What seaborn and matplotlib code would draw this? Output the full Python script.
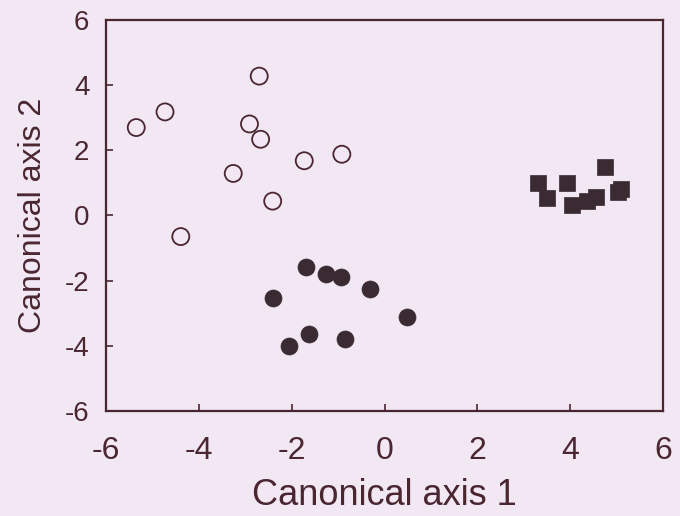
import pandas as pd
import matplotlib
matplotlib.use("Agg")
import matplotlib.pyplot as plt
import seaborn as sns

# group 1: open circles
open_x = [-5.35, -4.73, -2.70, -2.91, -2.67, -0.92, -1.73, -3.26, -2.41, -4.39]
open_y = [2.70, 3.18, 4.28, 2.81, 2.34, 1.88, 1.68, 1.29, 0.44, -0.65]

# group 2: filled circles
fill_x = [-1.70, -1.27, -0.94, -0.31, -2.41, 0.48, -1.63, -0.85, -2.06]
fill_y = [-1.57, -1.80, -1.90, -2.25, -2.54, -3.12, -3.65, -3.79, -4.02]

# group 3: filled squares
sq_x = [3.30, 3.50, 3.94, 4.75, 4.03, 4.36, 4.56, 5.02, 5.10]
sq_y = [0.99, 0.53, 0.99, 1.50, 0.32, 0.45, 0.58, 0.72, 0.82]

ticks = [-6, -4, -2, 0, 2, 4, 6]

bg = "#f1e8f3"
ink = "#4a2631"
mark = "#3a2a32"

sns.set_style("ticks")
plt.rcParams['font.family'] = ['Liberation Sans', 'DejaVu Sans']

df_open = pd.DataFrame({"x": open_x, "y": open_y})
df_fill = pd.DataFrame({"x": fill_x, "y": fill_y})
df_sq = pd.DataFrame({"x": sq_x, "y": sq_y})

fig = plt.figure(figsize=(6.8, 5.16), dpi=100, facecolor=bg)
ax = fig.add_axes([0.156, 0.204, 0.819, 0.757])
ax.set_facecolor(bg)

sns.scatterplot(data=df_open, x="x", y="y", ax=ax, marker="o", s=150,
                facecolor="none", edgecolor=ink, linewidth=1.3)
sns.scatterplot(data=df_fill, x="x", y="y", ax=ax, marker="o", s=150,
                color=mark, edgecolor=mark, linewidth=0.5)
sns.scatterplot(data=df_sq, x="x", y="y", ax=ax, marker="s", s=125,
                color=mark, edgecolor=mark, linewidth=0.5)

ax.set_xlim(-6, 6)
ax.set_ylim(-6, 6)
ax.set_xticks(ticks)
ax.set_yticks(ticks)
ax.set_xticklabels([str(t) for t in ticks])
ax.set_yticklabels([str(t) for t in ticks])
ax.tick_params(direction="in", length=5, width=1.2, colors=ink)
ax.tick_params(axis="x", labelsize=23, pad=18)
ax.tick_params(axis="y", labelsize=20, pad=12)
for sp in ax.spines.values():
    sp.set_color(ink)
    sp.set_linewidth(1.6)

ax.set_xlabel("Canonical axis 1", fontsize=26, color=ink, labelpad=9)
ax.set_ylabel("Canonical axis 2", fontsize=23, color=ink, labelpad=12)

fig.savefig("out.png", dpi=100, facecolor=bg)
